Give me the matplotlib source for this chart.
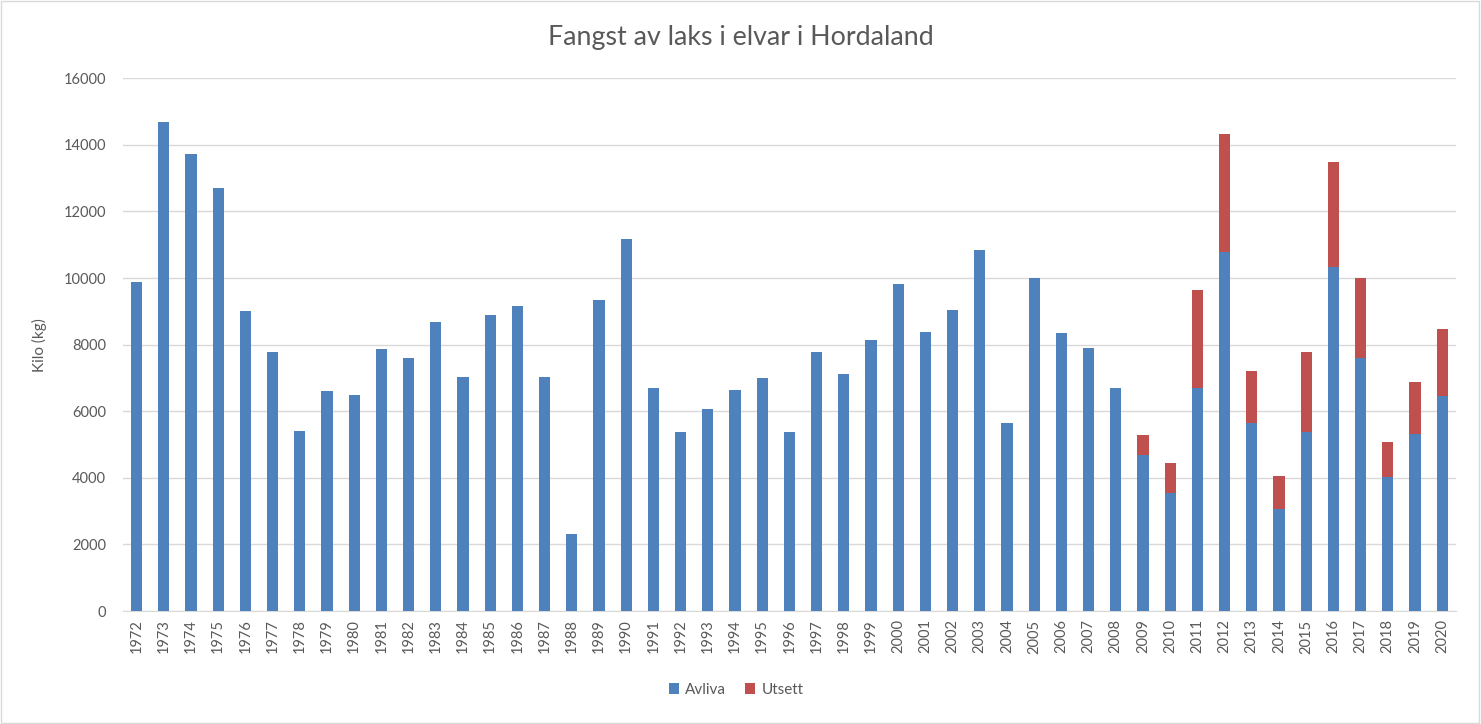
import matplotlib.pyplot as plt
from matplotlib.patches import Rectangle
import numpy as np

# Data
years = [str(y) for y in range(1972, 2021)]
avliva = [9880, 14680, 13720, 12690, 9010, 7770, 5410, 6610, 6490, 7880,
          7610, 8690, 7040, 8900, 9170, 7040, 2320, 9350, 11180, 6710,
          5390, 6080, 6650, 7010, 5390, 7790, 7130, 8150, 9830, 8390,
          9050, 10850, 5660, 10010, 8360, 7910, 6710, 4690, 3550, 6700,
          10780, 5640, 3070, 5380, 10320, 7600, 4030, 5320, 6460]
utsett = [0] * 37 + [610, 900, 2930, 3530, 1560, 990, 2390, 3150, 2390, 1040, 1550, 2000]

plt.rcParams['font.family'] = ['Lato', 'DejaVu Sans']
text_col = '#595959'

fig = plt.figure(figsize=(14.81, 7.24), dpi=100)
ax = fig.add_axes([0.083, 0.156, 0.9, 0.736])

x = np.arange(len(years))
ax.bar(x, avliva, width=0.41, color='#4F81BD', label='Avliva', zorder=3)
ax.bar(x, utsett, width=0.41, bottom=avliva, color='#C0504D', label='Utsett', zorder=3)

ax.set_xlim(-0.5, len(years) - 0.5)
ax.set_ylim(0, 16000)
ax.set_yticks(range(0, 16001, 2000))
ax.set_xticks(x)
ax.set_xticklabels(years, rotation=90, fontsize=10.5, color=text_col)
ax.tick_params(axis='y', labelsize=10.5, colors=text_col, length=0, pad=12)
ax.tick_params(axis='x', length=0, pad=6)
ax.grid(axis='y', color='#D9D9D9', linewidth=1, zorder=0)
for s in ['top', 'right', 'left']:
    ax.spines[s].set_visible(False)
ax.spines['bottom'].set_color('#D9D9D9')

ax.set_ylabel('Kilo (kg)', fontsize=11, color=text_col, labelpad=12)
fig.text(0.5, 0.948, 'Fangst av laks i elvar i Hordaland', ha='center', va='center',
         fontsize=19.3, color=text_col)

fig.legend(loc='center', bbox_to_anchor=(0.497, 0.047), ncol=2, frameon=False,
           fontsize=11, handlelength=0.7, handleheight=0.7, columnspacing=1.2,
           handletextpad=0.4, labelcolor=text_col)

fig.patches.append(Rectangle((0.0005, 0.001), 0.998, 0.997, transform=fig.transFigure,
                             fill=False, edgecolor='#D9D9D9', linewidth=1))

fig.savefig('out.png', dpi=100)
